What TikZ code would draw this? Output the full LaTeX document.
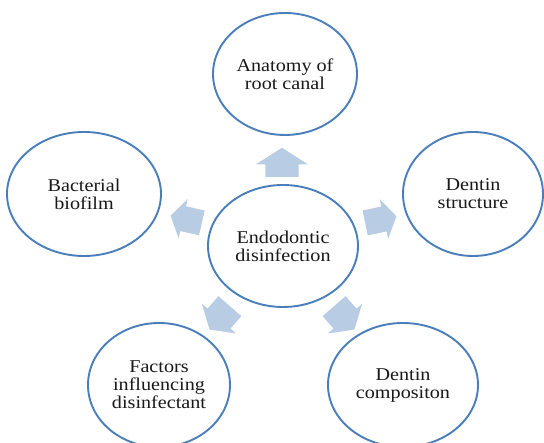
\documentclass[tikz,border=0pt]{standalone}
\usepackage{fontspec}
\setmainfont[FakeStretch=1.12]{Liberation Serif}
\usetikzlibrary{shapes.geometric,shapes.arrows}
\definecolor{ringblue}{HTML}{4A7EBB}
\definecolor{arrowfill}{HTML}{B8CCE4}
\tikzset{
  bubble/.style={ellipse, draw=ringblue, line width=1.9pt, fill=white,
    align=center, inner sep=0pt, text=black!90,
    font=\fontsize{18}{18}\selectfont},
  blockarrow/.style n args={3}{single arrow, fill=arrowfill, draw=none,
    anchor=tail, inner xsep=0pt, inner ysep=#1,
    single arrow head extend=#2, minimum height=#3,
    single arrow tip angle=115}
}
\begin{document}
\begin{tikzpicture}[x=1pt,y=1pt]
\useasboundingbox (0,0) rectangle (544,443);
\clip (0,0) rectangle (544,443);
\fill[white] (0,0) rectangle (544,443);
% ellipses (y = 443 - pixel y)
\node[bubble, minimum width=150pt, minimum height=122pt] (c)  at (283,197) {Endodontic\\disinfection};
\node[bubble, minimum width=144pt, minimum height=122pt] (t)  at (285,369) {Anatomy of\\root canal};
\node[bubble, minimum width=154pt, minimum height=124pt] (l)  at (84,249)  {Bacterial\\biofilm};
\node[bubble, minimum width=140pt, minimum height=124pt] (r)  at (473,249) {Dentin\\structure};
\node[bubble, minimum width=142pt, minimum height=124pt] (bl) at (159,58)  {Factors\\influencing\\disinfectant};
\node[bubble, minimum width=150pt, minimum height=124pt] (br) at (403,58)  {Dentin\\compositon};
% block arrows (placed by their tails)
\node[blockarrow={16.5pt}{9.5pt}{29pt}, rotate=90]   (at)  at (282,266) {};
\node[blockarrow={12.5pt}{7.5pt}{32pt}, rotate=12]   (ar)  at (365,220) {};
\node[blockarrow={12.5pt}{7.5pt}{32pt}, rotate=167]  (al)  at (202,220) {};
\node[blockarrow={15pt}{7.5pt}{31pt}, rotate=-131] (abl) at (230,137) {};
\node[blockarrow={15pt}{7.5pt}{31pt}, rotate=-49]  (abr) at (334,137) {};
\end{tikzpicture}
\end{document}
